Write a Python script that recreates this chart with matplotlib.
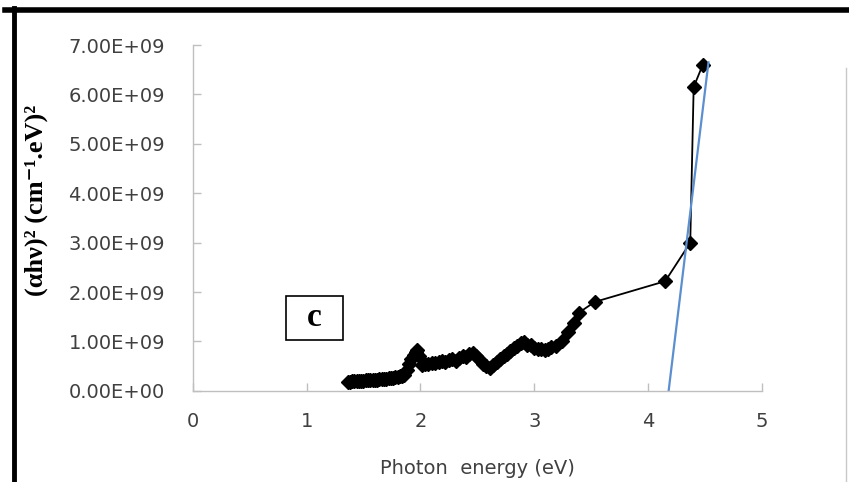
import matplotlib
matplotlib.use("Agg")
import matplotlib.pyplot as plt
from matplotlib.lines import Line2D
from matplotlib.patches import Rectangle

# measured points: photon energy (eV) and (alpha*h*nu)^2 in units of 1e9
energia = [
    1.36, 1.38, 1.40, 1.42, 1.44, 1.46, 1.48, 1.50, 1.52, 1.54, 1.56, 1.58, 1.60,
    1.62, 1.64, 1.66, 1.68, 1.70, 1.72, 1.74, 1.76, 1.78, 1.80, 1.82, 1.84, 1.86,
    1.88, 1.90, 1.92, 1.94, 1.96, 1.97, 1.99, 2.01, 2.04, 2.07, 2.10, 2.13, 2.16,
    2.19, 2.22, 2.25, 2.28, 2.31, 2.34, 2.37, 2.40, 2.43, 2.46, 2.49, 2.52, 2.55,
    2.58, 2.61, 2.64, 2.67, 2.70, 2.73, 2.76, 2.79, 2.82, 2.85, 2.88, 2.91, 2.94,
    2.97, 3.00, 3.03, 3.06, 3.09, 3.12, 3.15, 3.19, 3.24, 3.30, 3.35, 3.39, 3.53,
    4.15, 4.37, 4.40, 4.48,
]
absorcao = [
    0.19, 0.19, 0.20, 0.20, 0.20, 0.21, 0.21, 0.21, 0.22, 0.22, 0.22, 0.23, 0.23,
    0.23, 0.24, 0.24, 0.25, 0.25, 0.26, 0.26, 0.27, 0.28, 0.29, 0.30, 0.31, 0.33,
    0.42, 0.55, 0.64, 0.72, 0.78, 0.83, 0.70, 0.52, 0.55, 0.54, 0.57, 0.56, 0.58,
    0.60, 0.58, 0.62, 0.64, 0.61, 0.66, 0.70, 0.68, 0.74, 0.76, 0.70, 0.62, 0.55,
    0.50, 0.47, 0.53, 0.58, 0.64, 0.70, 0.75, 0.80, 0.86, 0.90, 0.96, 0.99, 0.93,
    0.92, 0.87, 0.84, 0.85, 0.82, 0.84, 0.88, 0.90, 1.02, 1.20, 1.38, 1.58, 1.80,
    2.22, 3.00, 6.15, 6.60,
]

# linear fit used to extract the band gap
ajuste_x = [4.18, 4.53]
ajuste_y = [0.0, 6.65]

xticks = [0, 1, 2, 3, 4, 5]
yticks = [0, 1, 2, 3, 4, 5, 6, 7]

fig = plt.figure(figsize=(8.49, 4.82), dpi=100)
fig.patch.set_facecolor("white")
ax = fig.add_axes([0.227, 0.189, 0.6705, 0.7176])

ax.plot(energia, [v * 1e9 for v in absorcao], color="black", linewidth=1.3,
        marker="D", markersize=7, markerfacecolor="black", markeredgecolor="black")
ax.plot(ajuste_x, [v * 1e9 for v in ajuste_y], color="#5b8fd0", linewidth=1.6)

ax.set_xlim(0, 5)
ax.set_ylim(0, 7e9)
ax.set_xticks(xticks)
ax.set_yticks([v * 1e9 for v in yticks])
ax.set_xticklabels([str(v) for v in xticks])
ax.set_yticklabels(["%d.00E+0%d" % (v, 9 if v else 0) for v in yticks])

for lado in ["top", "right"]:
    ax.spines[lado].set_visible(False)
for lado in ["left", "bottom"]:
    ax.spines[lado].set_color("#bfbfbf")
    ax.spines[lado].set_linewidth(1.0)
ax.tick_params(direction="in", length=6, width=1, color="#bfbfbf",
               labelsize=14, labelcolor="#404040")
ax.tick_params(axis="y", pad=20)
ax.tick_params(axis="x", pad=15)

ax.set_xlabel("Photon  energy (eV)", fontsize=14, color="#404040", labelpad=20)
fig.text(0.043, 1 - 200 / 482, "(αhν)² (cm⁻¹.eV)²", rotation=90, ha="center", va="center",
         fontsize=19, fontweight="bold", family=["Liberation Serif", "DejaVu Serif"])

# "c" label box
fig.patches.append(Rectangle((286 / 849, 1 - 340 / 482), 57 / 849, 44 / 482,
                             transform=fig.transFigure, fill=False,
                             edgecolor="black", linewidth=1.2))
fig.text(314.5 / 849, 1 - 318 / 482, "c", ha="center", va="center",
         fontsize=24, fontweight="bold", family=["Liberation Serif", "DejaVu Serif"])

# page frame
fig.lines.append(Line2D([5 / 849, 1], [1 - 9.5 / 482, 1 - 9.5 / 482],
                        transform=fig.transFigure, color="black", linewidth=4))
fig.lines.append(Line2D([14 / 849, 14 / 849], [1 - 8 / 482, 0],
                        transform=fig.transFigure, color="black", linewidth=3.5))
fig.lines.append(Line2D([846 / 849, 846 / 849], [1 - 68 / 482, 0],
                        transform=fig.transFigure, color="#c8c8c8", linewidth=1))

fig.savefig("out.png", dpi=100, facecolor=fig.get_facecolor())
plt.close(fig)
